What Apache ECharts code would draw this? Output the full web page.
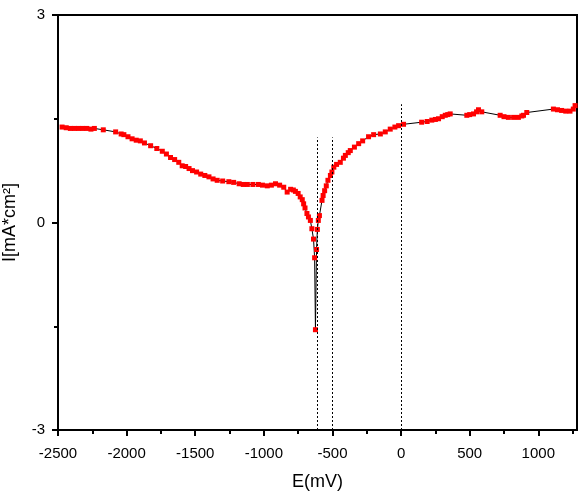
<!DOCTYPE html>
<html>
<head>
<meta charset="utf-8">
<style>
  html, body { margin: 0; padding: 0; background: #fff; }
  #chart { width: 582px; height: 492px; }
</style>
<script src="https://cdn.jsdelivr.net/npm/echarts@6/dist/echarts.min.js"></script>
</head>
<body>
<div id="chart"></div>
<script>
// potential (mV) and current density
const potential = [
  -2470, -2440, -2410, -2380, -2350, -2320, -2290, -2260, -2235, -2170,
  -2080, -2040, -2020, -1990, -1960, -1930, -1900, -1870, -1825, -1780,
  -1740, -1710, -1680, -1650, -1620, -1595, -1570, -1545, -1520, -1490,
  -1460, -1430, -1400, -1370, -1340, -1300, -1255, -1220, -1180, -1150,
  -1120, -1080, -1040, -1010, -975, -945, -915, -885, -855, -830,
  -805, -785, -770, -750, -735, -720, -710, -700, -686, -675,
  -661, -650, -638, -630, -624, -616, -610, -603, -595, -576,
  -568, -557, -545, -533, -515, -504, -490, -470, -443, -420,
  -406, -385, -370, -340, -309, -280, -237, -200, -151, -115,
  -79, -45, -18, 18, 150, 190, 224, 250, 273, 300,
  322, 340, 358, 479, 500, 528, 550, 564, 588, 722,
  750, 782, 820, 855, 880, 892, 916, 1110, 1140, 1170,
  1200, 1231, 1255, 1268
];
const current = [
  1.38, 1.37, 1.36, 1.36, 1.36, 1.36, 1.36, 1.35, 1.36, 1.34,
  1.31, 1.28, 1.27, 1.24, 1.21, 1.19, 1.18, 1.15, 1.11, 1.07,
  1.03, 0.99, 0.94, 0.91, 0.87, 0.82, 0.81, 0.78, 0.75, 0.73,
  0.70, 0.68, 0.66, 0.63, 0.61, 0.60, 0.59, 0.58, 0.56, 0.55,
  0.55, 0.55, 0.55, 0.54, 0.53, 0.54, 0.56, 0.54, 0.51, 0.44,
  0.48, 0.47, 0.45, 0.42, 0.37, 0.33, 0.27, 0.21, 0.13, 0.08,
  0.03, -0.09, -0.24, -0.51, -1.55, -0.39, -0.10, 0.03, 0.10, 0.32,
  0.39, 0.46, 0.53, 0.61, 0.68, 0.73, 0.80, 0.84, 0.87, 0.93,
  0.97, 1.01, 1.04, 1.09, 1.14, 1.18, 1.24, 1.27, 1.28, 1.31,
  1.35, 1.38, 1.40, 1.42, 1.45, 1.46, 1.48, 1.49, 1.50, 1.53,
  1.55, 1.56, 1.57, 1.55, 1.56, 1.57, 1.60, 1.63, 1.60, 1.55,
  1.53, 1.52, 1.52, 1.52, 1.54, 1.55, 1.59, 1.64, 1.63, 1.62,
  1.61, 1.61, 1.64, 1.69
];

// dotted vertical guide lines: position and top end
const guideE = [-610, -505, 0];
const guideTop = [1.23, 1.23, 1.71];

// tick positions
const xMajorTicks = [-2500, -2000, -1500, -1000, -500, 0, 500, 1000];
const xMinorTicks = [-2250, -1750, -1250, -750, -250, 250, 750, 1250];
const yMajorTicks = [-3, 0, 3];
const yMinorTicks = [-1.5, 1.5];

const xMin = -2500, xMax = 1282;
const yMin = -3, yMax = 3;

const font = "'Liberation Sans', Arial, sans-serif";

let chart = echarts.init(document.getElementById('chart'));

let points = potential.map((e, i) => [e, current[i]]);
let guides = guideE.map((e, i) => [
  { coord: [e, yMin] },
  { coord: [e, guideTop[i]] }
]);

let option = {
  animation: false,
  backgroundColor: '#fff',
  grid: {
    left: 58, right: 5, top: 15, bottom: 62,
    containLabel: false,
    outerBoundsMode: 'none',
    show: true,
    borderColor: '#000',
    borderWidth: 2,
    backgroundColor: 'transparent'
  },
  xAxis: [{
    type: 'value',
    min: xMin, max: xMax,
    name: 'E(mV)',
    nameLocation: 'middle',
    nameGap: 43,
    nameTextStyle: { color: '#000', fontSize: 18, fontFamily: font },
    axisLine: { show: true, onZero: false, lineStyle: { color: '#000', width: 2 } },
    axisTick: { show: true, length: 6, lineStyle: { color: '#000', width: 2 }, customValues: xMajorTicks },
    axisLabel: {
      color: '#000', fontSize: 15, fontFamily: font, margin: 16,
      customValues: xMajorTicks,
      formatter: v => String(v)
    },
    splitLine: { show: false }
  }, {
    type: 'value',
    min: xMin, max: xMax,
    position: 'bottom',
    axisLine: { show: false, onZero: false },
    axisTick: { show: true, length: 4, lineStyle: { color: '#000', width: 2 }, customValues: xMinorTicks },
    axisLabel: { show: false },
    splitLine: { show: false }
  }],
  yAxis: [{
    type: 'value',
    min: yMin, max: yMax,
    name: 'I[mA*cm²]',
    nameLocation: 'middle',
    nameRotate: 90,
    nameGap: 39,
    nameTextStyle: { color: '#000', fontSize: 18, fontFamily: font },
    axisLine: { show: true, onZero: false, lineStyle: { color: '#000', width: 2 } },
    axisTick: { show: true, length: 6, lineStyle: { color: '#000', width: 2 }, customValues: yMajorTicks },
    axisLabel: {
      color: '#000', fontSize: 15, fontFamily: font, margin: 13,
      customValues: yMajorTicks,
      formatter: v => String(v)
    },
    splitLine: { show: false }
  }, {
    type: 'value',
    min: yMin, max: yMax,
    position: 'left',
    axisLine: { show: false, onZero: false },
    axisTick: { show: true, length: 4, lineStyle: { color: '#000', width: 2 }, customValues: yMinorTicks },
    axisLabel: { show: false },
    splitLine: { show: false }
  }],
  series: [{
    type: 'line',
    data: points,
    symbol: 'rect',
    symbolSize: 5,
    showAllSymbol: true,
    itemStyle: { color: '#ff0000' },
    lineStyle: { color: '#000', width: 1 },
    markLine: {
      silent: true,
      symbol: 'none',
      label: { show: false },
      lineStyle: { color: '#000', width: 1, type: [2, 2] },
      data: guides
    },
    z: 3
  }]
};

chart.setOption(option);
</script>
</body>
</html>
